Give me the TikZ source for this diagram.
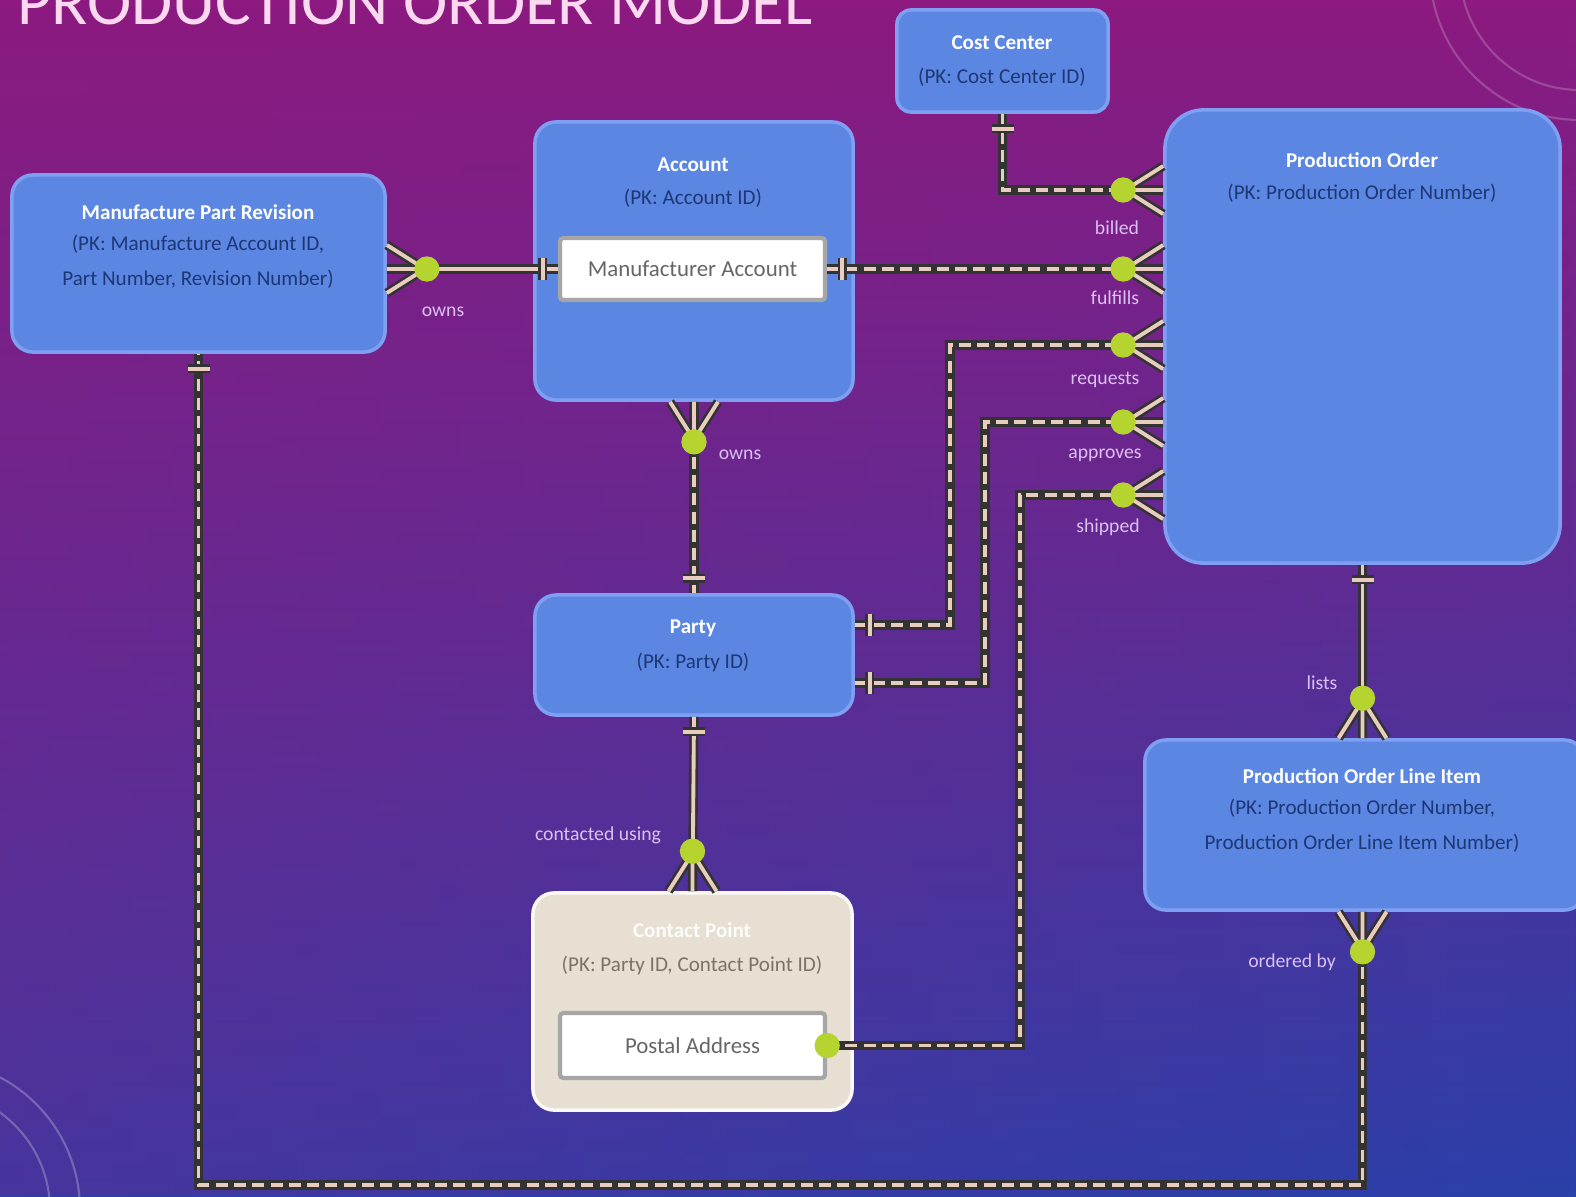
\documentclass[tikz,border=0pt]{standalone}
\usepackage{fontspec}
\setmainfont{Carlito}
\usetikzlibrary{calc,fadings}

\definecolor{bgtop}{HTML}{8C1A80}
\definecolor{bgmid}{HTML}{58269A}
\definecolor{bgbot}{HTML}{2A40AA}
\definecolor{entfill}{HTML}{5B87E2}
\definecolor{entline}{HTML}{7FA0F2}
\definecolor{pktext}{HTML}{1E3775}
\definecolor{cpfill}{HTML}{E6DFD2}
\definecolor{cptext}{HTML}{7D7363}
\definecolor{relcol}{HTML}{E8CDBE}
\definecolor{dotcol}{HTML}{B6D430}
\definecolor{lblcol}{HTML}{DCC0F2}

\tikzset{
	entity/.style={draw=entline, line width=1pt, fill=entfill, rounded corners=6pt},
	attrbox/.style={draw=black!35, line width=1.2pt, fill=white, rounded corners=1pt, font=\fontsize{6.5}{8}\selectfont, text=black!60},
	etitle/.style={font=\bfseries\fontsize{6}{7}\selectfont, text=white},
	epk/.style={font=\fontsize{6}{10}\selectfont, text=pktext, align=center},
	rlabel/.style={font=\fontsize{5.6}{7}\selectfont, text=lblcol},
	rel/.style={draw=relcol, line width=1.1pt, preaction={draw=black!80, line width=2.6pt, solid}},
	nonid/.style={rel, dash pattern=on 3.4pt off 1.8pt},
	crowfoot/.pic={
		\draw[rel] (0,-24) -- (38,0) (0,0) -- (38,0) (0,24) -- (38,0);
		\fill[dotcol] (40,0) circle (3.6pt);
	},
	onebar/.pic={\draw[rel] (15,-11) -- (15,11);},
}

\begin{document}
\begin{tikzpicture}[x=0.01cm, y=-0.01cm]
		%%%%% START %%%%%
		
		\useasboundingbox (0,0) rectangle (1576,1196);
		\clip (0,0) rectangle (1576,1196);
		
		\shade[top color=bgtop, middle color=bgmid, bottom color=bgbot] (0,0) rectangle (1576,1196);
		\fill[bgtop, path fading=east, fill opacity=0.3] (0,0) rectangle (1576,1196);
		\draw[white, opacity=0.25, line width=0.6pt] (-70,1210) circle (120) (-70,1210) circle (150);
		\draw[white, opacity=0.2, line width=0.6pt] (1580,-30) circle (120) (1580,-30) circle (150);
		
		\node[anchor=base west, font=\fontsize{19}{20}\selectfont, text=white!85!magenta] (title) at (5,24) {PRODUCTION ORDER MODEL};
		
		% entities
		\node[entity, rounded corners=4pt, minimum width=2.11cm, minimum height=1.02cm] (cc) at (1002.5,61) {};
		\node[entity, minimum width=3.73cm, minimum height=1.77cm] (mpr) at (198.5,263.5) {};
		\node[entity, minimum width=3.18cm, minimum height=2.78cm] (acc) at (694,261) {};
		\node[attrbox, minimum width=2.65cm, minimum height=0.62cm] (macct) at (692.5,269) {Manufacturer Account};
		\node[entity, rounded corners=11pt, minimum width=3.95cm, minimum height=4.53cm] (po) at (1362.5,336.5) {};
		\node[entity, minimum width=3.18cm, minimum height=1.2cm] (pty) at (694,655) {};
		\node[entity, fill=cpfill, draw=white!80!cpfill, minimum width=3.19cm, minimum height=2.17cm] (cp) at (692.5,1001.5) {};
		\node[attrbox, minimum width=2.65cm, minimum height=0.65cm] (paddr) at (692.5,1045.5) {Postal Address};
		\node[entity, minimum width=4.4cm, minimum height=1.7cm] (poli) at (1365,825) {};
		
		\node[etitle] (cct) at (1002,43) {Cost Center};
		\node[epk] (ccpk) at (1002,77) {(PK: Cost Center ID)};
		\node[etitle] (mprt) at (198,212) {Manufacture Part Revision};
		\node[epk] (mprpk) at (198,262) {(PK: Manufacture Account ID,\\Part Number, Revision Number)};
		\node[etitle] (acct) at (693,165) {Account};
		\node[epk] (accpk) at (693,198) {(PK: Account ID)};
		\node[etitle] (pot) at (1362,160) {Production Order};
		\node[epk] (popk) at (1362,193) {(PK: Production Order Number)};
		\node[etitle] (ptyt) at (693,628) {Party};
		\node[epk] (ptypk) at (693,662) {(PK: Party ID)};
		\node[etitle, text=white!90!cpfill] (cpt) at (692,930) {Contact Point};
		\node[epk, text=cptext] (cppk) at (692,965) {(PK: Party ID, Contact Point ID)};
		\node[etitle] (polit) at (1362,776) {Production Order Line Item};
		\node[epk] (polipk) at (1362,826) {(PK: Production Order Number,\\Production Order Line Item Number)};
		
		% attachment points
		\coordinate (poB) at (po.west |- 0,190);
		\coordinate (poR) at (po.west |- 0,345);
		\coordinate (poA) at (po.west |- 0,422);
		\coordinate (poS) at (po.west |- 0,495);
		\coordinate (ptyR) at (pty.east |- 0,625);
		\coordinate (ptyA) at (pty.east |- 0,683);
		\coordinate (mprE) at (mpr.east |- macct.west);
		\coordinate (poM) at (macct.east -| po.west);
		\coordinate (poliN) at (po.south |- poli.north);
		\coordinate (poliS) at (po.south |- poli.south);
		
		% relationships
		\draw[rel] (mprE) -- (macct.west);
		\draw[nonid] (macct.east) -- (poM);
		\draw[nonid] (cc.south) |- (poB);
		\draw[nonid] (ptyR) -| (950,345) -- (poR);
		\draw[nonid] (ptyA) -| (985,422) -- (poA);
		\draw[nonid] (paddr.east) -| (1020,495) -- (poS);
		\draw[nonid] (acc.south) -- (pty.north);
		\draw[rel] (pty.south) -- (cp.north);
		\draw[rel] (po.south) -- (poliN);
		\draw[nonid] (poliS) -- (poliS |- 0,1185) -| (mpr.south);
		
		\pic at (mprE) {crowfoot};
		\pic[rotate=180] at (macct.west) {onebar};
		\pic at (macct.east) {onebar};
		\pic[rotate=180] at (poM) {crowfoot};
		\pic[rotate=-90] at (cc.south) {onebar};
		\pic[rotate=180] at (poB) {crowfoot};
		\pic at (ptyR) {onebar};
		\pic[rotate=180] at (poR) {crowfoot};
		\pic at (ptyA) {onebar};
		\pic[rotate=180] at (poA) {crowfoot};
		\fill[dotcol] (paddr.east) circle (3.6pt);
		\pic[rotate=180] at (poS) {crowfoot};
		\pic[rotate=-90] at (acc.south) {crowfoot};
		\pic[rotate=90] at (pty.north) {onebar};
		\pic[rotate=-90] at (pty.south) {onebar};
		\pic[rotate=90] at (cp.north) {crowfoot};
		\pic[rotate=-90] at (po.south) {onebar};
		\pic[rotate=90] at (poliN) {crowfoot};
		\pic[rotate=-90] at (poliS) {crowfoot};
		\pic[rotate=-90] at (mpr.south) {onebar};
		
		% labels
		\node[rlabel] (lowns1) at (443,312) {owns};
		\node[rlabel] (lowns2) at (740,455) {owns};
		\node[rlabel] (lbilled) at (1117,228) {billed};
		\node[rlabel] (lfulfills) at (1115,298) {fulfills};
		\node[rlabel] (lrequests) at (1105,380) {requests};
		\node[rlabel] (lapproves) at (1105,455) {approves};
		\node[rlabel] (lshipped) at (1108,527) {shipped};
		\node[rlabel] (llists) at (1322,683) {lists};
		\node[rlabel] (lcontacted) at (598,835) {contacted using};
		\node[rlabel] (lordered) at (1292,962) {ordered by};
		
		%%%%% END %%%%%
	\end{tikzpicture}
\end{document}
